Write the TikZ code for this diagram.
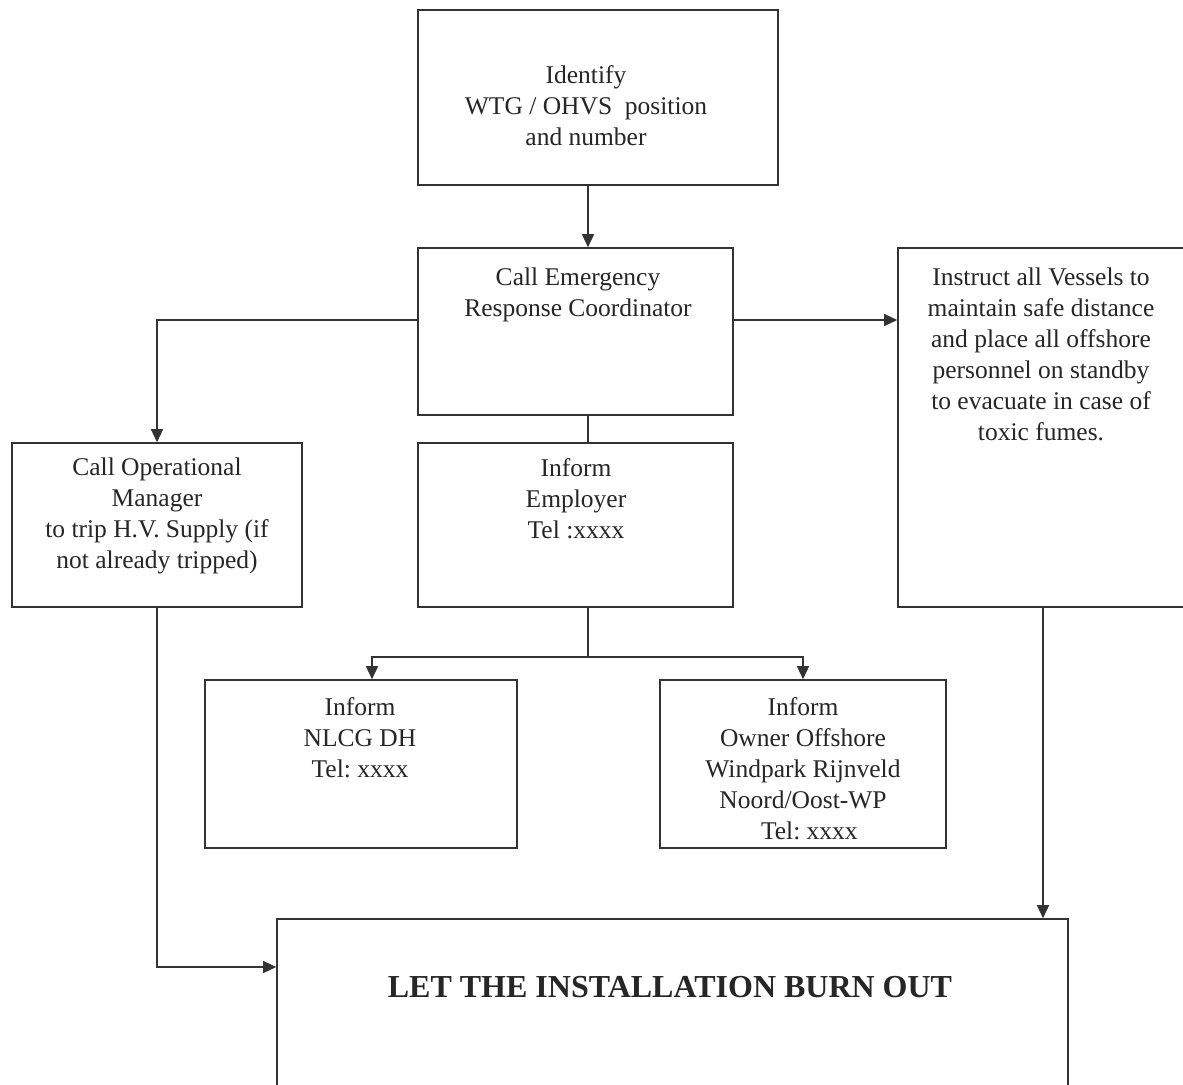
\documentclass[tikz,border=0pt]{standalone}
\usepackage{fontspec}
\setmainfont{Liberation Serif}
\usetikzlibrary{arrows.meta}
\frenchspacing
\begin{document}
\begin{tikzpicture}[x=1pt,y=-1pt,
  box/.style={draw=black!80,line width=1.6pt,inner sep=0pt},
  txt/.style={anchor=north,inner sep=0pt,align=center,font=\fontsize{25.5}{31}\selectfont,text=black!85},
  conn/.style={draw=black!80,line width=1.4pt},
  arr/.style={conn,-{Triangle[length=13pt,width=12pt]}}]
\useasboundingbox[fill=white] (0,0) rectangle (1183,1084);
% boxes
\node[box,minimum width=360pt,minimum height=175pt] (b1) at (598,97.5) {};
\node[box,minimum width=315pt,minimum height=167pt] (b2) at (575.5,331.5) {};
\node[box,minimum width=315pt,minimum height=164pt] (b3) at (575.5,525) {};
\node[box,minimum width=290pt,minimum height=164pt] (b4) at (157,525) {};
\node[box,minimum width=300pt,minimum height=359pt] (b5) at (1048,427.5) {};
\node[box,minimum width=312pt,minimum height=168pt] (b6) at (361,764) {};
\node[box,minimum width=286pt,minimum height=168pt] (b7) at (803,764) {};
\node[box,minimum width=791pt,minimum height=190pt] (b8) at (672.5,1014) {};
% texts
\node[txt] (t1) at (586,65) {Identify\\WTG / OHVS\ \ position\\and number};
\node[txt] (t2) at (578,268) {Call Emergency\\Response Coordinator};
\node[txt] (t3) at (576,458) {Inform\\Employer\\Tel :xxxx};
\node[txt] (t4) at (157,458) {Call Operational\\Manager\\to trip H.V. Supply (if\\not already tripped)};
\node[txt] (t5) at (1041,268) {Instruct all Vessels to\\maintain safe distance\\and place all offshore\\personnel on standby\\to evacuate in case of\\toxic fumes.};
\node[txt] (t6) at (360,697) {Inform\\NLCG DH\\Tel: xxxx};
\node[txt] (t7) at (803,697) {Inform\\Owner Offshore\\Windpark Rijnveld\\Noord/Oost-WP\\\ \ Tel: xxxx};
\node[txt,font=\bfseries\fontsize{32}{36}\selectfont] (t8) at (670,976) {LET THE INSTALLATION BURN OUT};
% connectors
\coordinate (split) at (588,657);
\draw[arr] (b1.south -| 588,0) -- (b2.north -| 588,0);
\draw[conn] (b2.south -| 588,0) -- (b3.north -| 588,0);
\draw[arr] (b2.west |- 0,320) -| (b4.north);
\draw[arr] (b2.east |- 0,320) -- (b5.west |- 0,320);
\draw[conn] (b3.south -| 588,0) -- (split);
\draw[arr] (split) -| (b6.north -| 372,0);
\draw[arr] (split) -| (b7.north -| 803,0);
\draw[arr] (b4.south) |- (b8.west |- 0,967);
\draw[arr] (b5.south -| 1043,0) -- (b8.north -| 1043,0);
\end{tikzpicture}
\end{document}
